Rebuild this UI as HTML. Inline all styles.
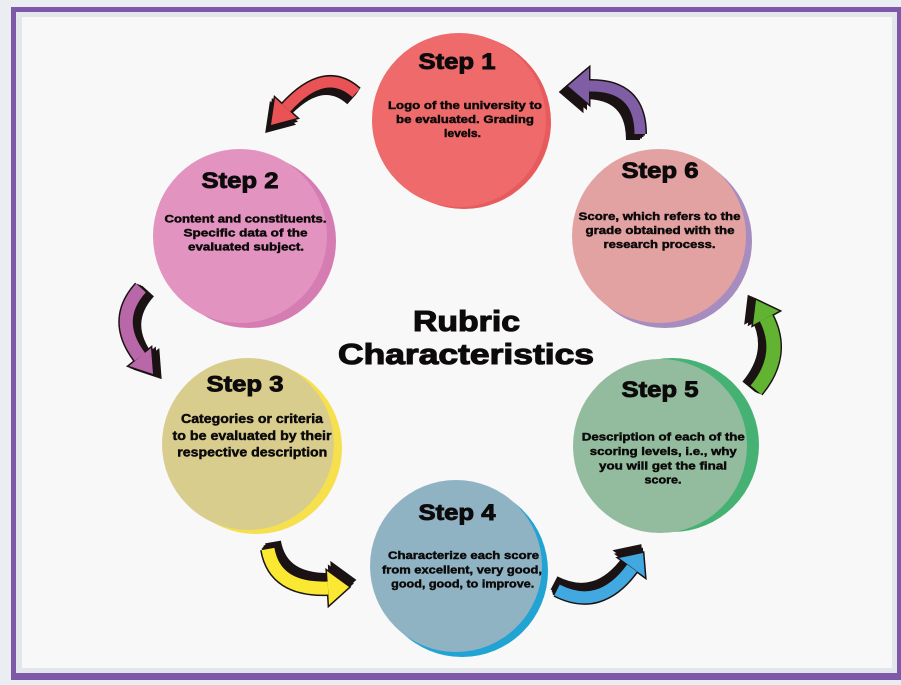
<!DOCTYPE html>
<html><head><meta charset="utf-8"><style>
html,body{margin:0;padding:0;background:#eaedf1;}
svg{display:block;}
text{font-family:"Liberation Sans",Arial,sans-serif;font-weight:bold;fill:#0c0a0a;stroke:#0c0a0a;}
.t{stroke-width:1.1;}
.h{stroke-width:0.9;}
.b text{stroke-width:0.45;}
</style></head><body>
<svg width="901" height="685" viewBox="0 0 901 685" xmlns="http://www.w3.org/2000/svg">
<rect x="0" y="0" width="901" height="685" fill="#eaedf1"/>
<rect x="11" y="7" width="895" height="673" fill="#7d59a7"/>
<rect x="16" y="12" width="881" height="661" fill="#e3e6ea"/>
<rect x="22" y="17" width="870" height="651" fill="#f8f8f8"/>

<!-- Circles -->
<circle cx="464" cy="122" r="87" fill="#e75b5d"/>
<circle cx="459" cy="120" r="87" fill="#ee6a6b"/>

<circle cx="249" cy="241" r="87" fill="#d57db2"/>
<circle cx="240" cy="236" r="87" fill="#e293bf"/>

<circle cx="665" cy="241" r="87" fill="#a68cbf"/>
<circle cx="659" cy="236" r="87" fill="#e3a2a2"/>

<circle cx="256" cy="448" r="86" fill="#f6e04d"/>
<circle cx="248" cy="444" r="86" fill="#d9cd8e"/>

<circle cx="462" cy="571" r="86" fill="#21a3d3"/>
<circle cx="456" cy="566" r="86" fill="#8fb3c3"/>

<circle cx="672" cy="445" r="87" fill="#45b273"/>
<circle cx="660" cy="446" r="87" fill="#93bc9f"/>

<g id="arrows">
<!-- RED -->
<g fill="#1b1313">
  <path d="M356,93 Q325,65 286,108" fill="none" stroke="#1b1313" stroke-width="14" transform="translate(-1,1.5)"/>
  <path d="M356,93 Q325,65 286,108" fill="none" stroke="#1b1313" stroke-width="14" transform="translate(-2,3)"/>
  <path d="M356,93 Q325,65 286,108" fill="none" stroke="#1b1313" stroke-width="14" transform="translate(-3,4.5)"/>
  <path d="M356,93 Q325,65 286,108" fill="none" stroke="#1b1313" stroke-width="14" transform="translate(-4,6)"/>
  <polygon points="297,118 275,98 271,125" stroke="#1b1313" stroke-width="3" transform="translate(-2,3)"/>
  <polygon points="297,118 275,98 271,125" stroke="#1b1313" stroke-width="3" transform="translate(-4,6)"/>
  <path d="M356,93 Q325,65 286,108" fill="none" stroke="#1b1313" stroke-width="14"/>
  <polygon points="297,118 275,98 271,125" stroke="#1b1313" stroke-width="3"/>
  <path d="M356,93 Q325,65 286,108" fill="none" stroke="#e95356" stroke-width="11"/>
  <polygon points="297,118 275,98 271,125" fill="#e95356"/>
</g>
<!-- PURPLE -->
<g fill="#1b1313">
  <path d="M640,134 Q640,85 589,86" fill="none" stroke="#1b1313" stroke-width="14" transform="translate(-2,1.5)"/>
  <path d="M640,134 Q640,85 589,86" fill="none" stroke="#1b1313" stroke-width="14" transform="translate(-3.5,3)"/>
  <path d="M640,134 Q640,85 589,86" fill="none" stroke="#1b1313" stroke-width="14" transform="translate(-5,4.5)"/>
  <path d="M640,134 Q640,85 589,86" fill="none" stroke="#1b1313" stroke-width="14" transform="translate(-7,6)"/>
  <polygon points="589,104 589,68 568,86" stroke="#1b1313" stroke-width="3" transform="translate(-3.5,3)"/>
  <polygon points="589,104 589,68 568,86" stroke="#1b1313" stroke-width="3" transform="translate(-7,6)"/>
  <path d="M640,134 Q640,85 589,86" fill="none" stroke="#1b1313" stroke-width="14"/>
  <polygon points="589,104 589,68 568,86" stroke="#1b1313" stroke-width="3"/>
  <path d="M640,134 Q640,85 589,86" fill="none" stroke="#7f5ea6" stroke-width="11"/>
  <polygon points="589,104 589,68 568,86" fill="#7f5ea6"/>
</g>
<!-- MAGENTA -->
<g fill="#1b1313">
  <path d="M141,288 Q112,320 140,357" fill="none" stroke="#1b1313" stroke-width="16" transform="translate(2,1)"/>
  <path d="M141,288 Q112,320 140,357" fill="none" stroke="#1b1313" stroke-width="16" transform="translate(3.5,1.5)"/>
  <path d="M141,288 Q112,320 140,357" fill="none" stroke="#1b1313" stroke-width="16" transform="translate(5,2)"/>
  <path d="M141,288 Q112,320 140,357" fill="none" stroke="#1b1313" stroke-width="16" transform="translate(7,3)"/>
  <polygon points="151,348 129,366 153,374" stroke="#1b1313" stroke-width="3" transform="translate(3.5,1.5)"/>
  <polygon points="151,348 129,366 153,374" stroke="#1b1313" stroke-width="3" transform="translate(7,3)"/>
  <path d="M141,288 Q112,320 140,357" fill="none" stroke="#1b1313" stroke-width="16"/>
  <polygon points="151,348 129,366 153,374" stroke="#1b1313" stroke-width="3"/>
  <path d="M141,288 Q112,320 140,357" fill="none" stroke="#b868a8" stroke-width="13"/>
  <polygon points="151,348 129,366 153,374" fill="#b868a8"/>
</g>
<!-- GREEN -->
<g fill="#1b1313">
  <path d="M756,390 Q785,355 766,318" fill="none" stroke="#1b1313" stroke-width="17" transform="translate(-2,-1)"/>
  <path d="M756,390 Q785,355 766,318" fill="none" stroke="#1b1313" stroke-width="17" transform="translate(-3.5,-1.5)"/>
  <path d="M756,390 Q785,355 766,318" fill="none" stroke="#1b1313" stroke-width="17" transform="translate(-5,-2)"/>
  <path d="M756,390 Q785,355 766,318" fill="none" stroke="#1b1313" stroke-width="17" transform="translate(-7,-3)"/>
  <polygon points="779,311 753,325 756,300" stroke="#1b1313" stroke-width="3" transform="translate(-3.5,-1.5)"/>
  <polygon points="779,311 753,325 756,300" stroke="#1b1313" stroke-width="3" transform="translate(-7,-3)"/>
  <path d="M756,390 Q785,355 766,318" fill="none" stroke="#1b1313" stroke-width="17"/>
  <polygon points="779,311 753,325 756,300" stroke="#1b1313" stroke-width="3"/>
  <path d="M756,390 Q785,355 766,318" fill="none" stroke="#62b331" stroke-width="14"/>
  <polygon points="779,311 753,325 756,300" fill="#62b331"/>
</g>
<!-- BLUE -->
<g fill="#1b1313">
  <path d="M557,590 Q600,612 632,568" fill="none" stroke="#1b1313" stroke-width="15" transform="translate(-1,-2)"/>
  <path d="M557,590 Q600,612 632,568" fill="none" stroke="#1b1313" stroke-width="15" transform="translate(-1.5,-3.5)"/>
  <path d="M557,590 Q600,612 632,568" fill="none" stroke="#1b1313" stroke-width="15" transform="translate(-2,-5)"/>
  <path d="M557,590 Q600,612 632,568" fill="none" stroke="#1b1313" stroke-width="15" transform="translate(-3,-7)"/>
  <polygon points="645,577 619,558 643,553" stroke="#1b1313" stroke-width="3" transform="translate(-1.5,-3.5)"/>
  <polygon points="645,577 619,558 643,553" stroke="#1b1313" stroke-width="3" transform="translate(-3,-7)"/>
  <path d="M557,590 Q600,612 632,568" fill="none" stroke="#1b1313" stroke-width="15"/>
  <polygon points="645,577 619,558 643,553" stroke="#1b1313" stroke-width="3"/>
  <path d="M557,590 Q600,612 632,568" fill="none" stroke="#42a8e0" stroke-width="12"/>
  <polygon points="645,577 619,558 643,553" fill="#42a8e0"/>
</g>
<!-- YELLOW -->
<g fill="#1b1313">
  <path d="M268,549 Q275,590 328,588" fill="none" stroke="#1b1313" stroke-width="16" transform="translate(1.5,-2)"/>
  <path d="M268,549 Q275,590 328,588" fill="none" stroke="#1b1313" stroke-width="16" transform="translate(2.5,-3.5)"/>
  <path d="M268,549 Q275,590 328,588" fill="none" stroke="#1b1313" stroke-width="16" transform="translate(3.5,-5)"/>
  <path d="M268,549 Q275,590 328,588" fill="none" stroke="#1b1313" stroke-width="16" transform="translate(5,-7)"/>
  <polygon points="329,605 327,571 349,587" stroke="#1b1313" stroke-width="3" transform="translate(2.5,-3.5)"/>
  <polygon points="329,605 327,571 349,587" stroke="#1b1313" stroke-width="3" transform="translate(5,-7)"/>
  <path d="M268,549 Q275,590 328,588" fill="none" stroke="#1b1313" stroke-width="16"/>
  <polygon points="329,605 327,571 349,587" stroke="#1b1313" stroke-width="3"/>
  <path d="M268,549 Q275,590 328,588" fill="none" stroke="#fbe833" stroke-width="13"/>
  <polygon points="329,605 327,571 349,587" fill="#fbe833"/>
</g>
</g>

<!-- Title -->
<text class="t" x="466.5" y="331" font-size="29" text-anchor="middle" textLength="107" lengthAdjust="spacingAndGlyphs">Rubric</text>
<text class="t" x="466" y="364" font-size="29" text-anchor="middle" textLength="256" lengthAdjust="spacingAndGlyphs">Characteristics</text>

<!-- Step 1 -->
<text class="h" x="457" y="69" font-size="22" text-anchor="middle" textLength="77" lengthAdjust="spacingAndGlyphs">Step 1</text>
<g class="b" font-size="11" text-anchor="middle">
<text x="465" y="109" textLength="154" lengthAdjust="spacingAndGlyphs">Logo of the university to</text>
<text x="465" y="123" textLength="138" lengthAdjust="spacingAndGlyphs">be evaluated. Grading</text>
<text x="462.5" y="137" textLength="37" lengthAdjust="spacingAndGlyphs">levels.</text>
</g>

<!-- Step 2 -->
<text class="h" x="240" y="188" font-size="22" text-anchor="middle" textLength="77" lengthAdjust="spacingAndGlyphs">Step 2</text>
<g class="b" font-size="11" text-anchor="middle">
<text x="245.5" y="222.5" textLength="162" lengthAdjust="spacingAndGlyphs">Content and constituents.</text>
<text x="245.5" y="236.5" textLength="124" lengthAdjust="spacingAndGlyphs">Specific data of the</text>
<text x="246" y="250.5" textLength="116" lengthAdjust="spacingAndGlyphs">evaluated subject.</text>
</g>

<!-- Step 6 -->
<text class="h" x="660" y="178" font-size="22" text-anchor="middle" textLength="77" lengthAdjust="spacingAndGlyphs">Step 6</text>
<g class="b" font-size="11" text-anchor="middle">
<text x="659.5" y="220" textLength="162" lengthAdjust="spacingAndGlyphs">Score, which refers to the</text>
<text x="660" y="234" textLength="149" lengthAdjust="spacingAndGlyphs">grade obtained with the</text>
<text x="659.5" y="248" textLength="112" lengthAdjust="spacingAndGlyphs">research process.</text>
</g>

<!-- Step 3 -->
<text class="h" x="245" y="391.5" font-size="22" text-anchor="middle" textLength="77" lengthAdjust="spacingAndGlyphs">Step 3</text>
<g class="b" font-size="12.5" text-anchor="middle">
<text x="252" y="423" textLength="142" lengthAdjust="spacingAndGlyphs">Categories or criteria</text>
<text x="252" y="440" textLength="159" lengthAdjust="spacingAndGlyphs">to be evaluated by their</text>
<text x="252.3" y="456.5" textLength="150" lengthAdjust="spacingAndGlyphs">respective description</text>
</g>

<!-- Step 4 -->
<text class="h" x="457" y="520" font-size="22" text-anchor="middle" textLength="77" lengthAdjust="spacingAndGlyphs">Step 4</text>
<g class="b" font-size="11" text-anchor="middle">
<text x="463.5" y="559" textLength="151" lengthAdjust="spacingAndGlyphs">Characterize each score</text>
<text x="462" y="573.5" textLength="160" lengthAdjust="spacingAndGlyphs">from excellent, very good,</text>
<text x="462.7" y="587.5" textLength="143" lengthAdjust="spacingAndGlyphs">good, good, to improve.</text>
</g>

<!-- Step 5 -->
<text class="h" x="660" y="397" font-size="22" text-anchor="middle" textLength="77" lengthAdjust="spacingAndGlyphs">Step 5</text>
<g class="b" font-size="11" text-anchor="middle">
<text x="663.3" y="440.5" textLength="163" lengthAdjust="spacingAndGlyphs">Description of each of the</text>
<text x="663.3" y="455" textLength="147" lengthAdjust="spacingAndGlyphs">scoring levels, i.e., why</text>
<text x="663" y="469.5" textLength="128" lengthAdjust="spacingAndGlyphs">you will get the final</text>
<text x="663" y="483.5" textLength="37" lengthAdjust="spacingAndGlyphs">score.</text>
</g>
</svg>
</body></html>
